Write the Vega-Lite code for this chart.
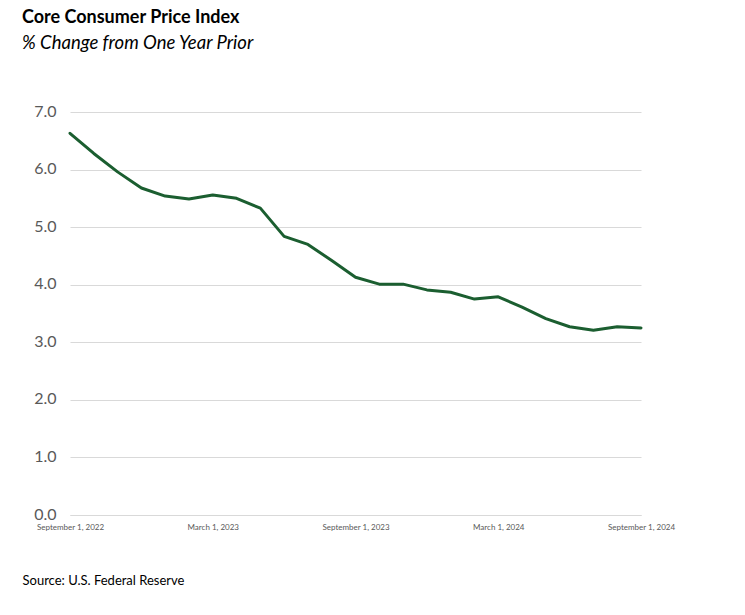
{
  "$schema": "https://vega.github.io/schema/vega-lite/v6.json",
  "autosize": {"type": "none"},
  "width": 571,
  "height": 403,
  "padding": {"left": 70, "top": 112, "right": 104, "bottom": 100},
  "background": "white",
  "title": {
    "text": "Core Consumer Price Index",
    "subtitle": "% Change from One Year Prior",
    "anchor": "start",
    "frame": "group",
    "dx": -48,
    "offset": 51,
    "font": "Lato",
    "fontSize": 18,
    "fontWeight": "bold",
    "color": "#000000",
    "subtitleFont": "Lato",
    "subtitleFontSize": 18.5,
    "subtitleFontStyle": "italic",
    "subtitleColor": "#000000",
    "subtitlePadding": 7
  },
  "data": {
    "values": [
      {"month": "September 1, 2022", "value": 6.63},
      {"month": "October 1, 2022", "value": 6.28},
      {"month": "November 1, 2022", "value": 5.96},
      {"month": "December 1, 2022", "value": 5.68},
      {"month": "January 1, 2023", "value": 5.54},
      {"month": "February 1, 2023", "value": 5.49},
      {"month": "March 1, 2023", "value": 5.56},
      {"month": "April 1, 2023", "value": 5.5},
      {"month": "May 1, 2023", "value": 5.33},
      {"month": "June 1, 2023", "value": 4.84},
      {"month": "July 1, 2023", "value": 4.7},
      {"month": "August 1, 2023", "value": 4.42},
      {"month": "September 1, 2023", "value": 4.13},
      {"month": "October 1, 2023", "value": 4.01},
      {"month": "November 1, 2023", "value": 4.01},
      {"month": "December 1, 2023", "value": 3.91},
      {"month": "January 1, 2024", "value": 3.87},
      {"month": "February 1, 2024", "value": 3.75},
      {"month": "March 1, 2024", "value": 3.79},
      {"month": "April 1, 2024", "value": 3.61},
      {"month": "May 1, 2024", "value": 3.41},
      {"month": "June 1, 2024", "value": 3.27},
      {"month": "July 1, 2024", "value": 3.21},
      {"month": "August 1, 2024", "value": 3.27},
      {"month": "September 1, 2024", "value": 3.25}
    ]
  },
  "config": {
    "view": {"stroke": null},
    "axis": {"labelFont": "Lato", "labelColor": "#595959"}
  },
  "mark": {"type": "line", "color": "#1b5e30", "strokeWidth": 3, "strokeCap": "round", "strokeJoin": "round"},
  "encoding": {
    "x": {
      "field": "month",
      "type": "ordinal",
      "sort": null,
      "scale": {"type": "point", "padding": 0},
      "axis": {
        "values": ["September 1, 2022", "March 1, 2023", "September 1, 2023", "March 1, 2024", "September 1, 2024"],
        "labelAngle": 0,
        "labelFontSize": 8,
        "labelPadding": 8,
        "ticks": false,
        "domainColor": "#d9d9d9",
        "domainWidth": 1,
        "grid": false,
        "title": "Source: U.S. Federal Reserve",
        "titleFont": "Lato",
        "titleFontSize": 13,
        "titleFontWeight": "normal",
        "titleColor": "#000000",
        "titleAnchor": "start",
        "titleAlign": "left",
        "titleX": -48,
        "titleY": 65,
        "titleBaseline": "middle"
      }
    },
    "y": {
      "field": "value",
      "type": "quantitative",
      "scale": {"domain": [0, 7], "nice": false, "zero": true},
      "axis": {
        "values": [0, 1, 2, 3, 4, 5, 6, 7],
        "format": ".1f",
        "labelFontSize": 16,
        "labelPadding": 14,
        "labelOffset": -1,
        "ticks": false,
        "domain": false,
        "gridColor": "#d9d9d9",
        "gridWidth": 1,
        "title": null
      }
    }
  }
}
